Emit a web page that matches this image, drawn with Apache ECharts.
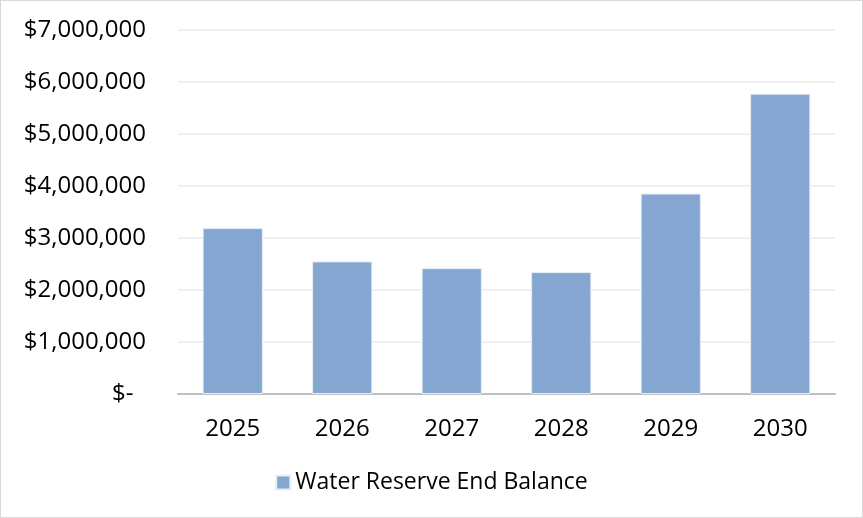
<!DOCTYPE html>
<html>
<head>
<meta charset="utf-8">
<script src="https://cdn.jsdelivr.net/npm/echarts@6/dist/echarts.min.js"></script>
<style>
html,body{margin:0;padding:0;background:#fff;}
#wrap{width:863px;height:518px;box-sizing:border-box;border:1px solid #D9D9D9;}
#chart{width:861px;height:516px;}
</style>
</head>
<body>
<div id="wrap"><div id="chart"></div></div>
<script>
const categories = ['2025', '2026', '2027', '2028', '2029', '2030'];
const balances = [3190000, 2550000, 2420000, 2345000, 3855000, 5775000];
const seriesName = 'Water Reserve End Balance';

function fmt(v) {
  if (v === 0) return '$-  ';
  return '$' + v.toLocaleString('en-US');
}

const chart = echarts.init(document.getElementById('chart'));
chart.setOption({
  animation: false,
  textStyle: { fontFamily: 'Open Sans' },
  grid: { left: 177, right: 27, top: 29, bottom: 123, containLabel: false },
  legend: {
    bottom: 18,
    left: 'center',
    icon: 'rect',
    itemWidth: 14,
    itemHeight: 14,
    itemGap: 8,
    textStyle: { fontSize: 23, color: '#000', fontFamily: 'Open Sans' },
    data: [seriesName]
  },
  xAxis: {
    type: 'category',
    data: categories,
    axisLine: { lineStyle: { color: '#BFBFBF', width: 2 } },
    axisTick: { show: false },
    axisLabel: { fontSize: 24, color: '#000', margin: 23, fontFamily: 'Open Sans' }
  },
  yAxis: {
    type: 'value',
    min: 0,
    max: 7000000,
    interval: 1000000,
    axisLine: { show: false },
    axisTick: { show: false },
    splitLine: { lineStyle: { color: '#F0F0F0', width: 2 } },
    axisLabel: { fontSize: 24, color: '#000', margin: 32, formatter: fmt, fontFamily: 'Open Sans' }
  },
  series: [{
    name: seriesName,
    type: 'bar',
    data: balances,
    barWidth: '55%',
    itemStyle: { color: '#84A6D0', borderColor: '#E6EEF7', borderWidth: 1 }
  }]
});
</script>
</body>
</html>
